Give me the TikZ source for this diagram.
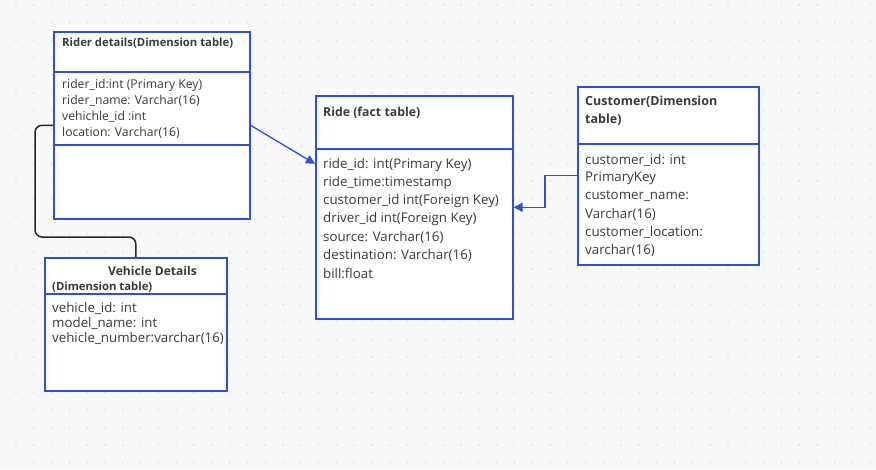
\documentclass[tikz,border=0pt]{standalone}
\usepackage{fontspec}
\setmainfont{Open Sans}
\usetikzlibrary{arrows.meta}
\definecolor{bg}{HTML}{F8F8FB}
\definecolor{dotc}{HTML}{D4D4DC}
\definecolor{tblue}{HTML}{2E4FD6}
\definecolor{txt}{HTML}{3A3A3A}
\tikzset{
  tbl/.style={draw=tblue, line width=1.6pt, fill=white, inner sep=0, anchor=north west},
  sepline/.style={draw=tblue, line width=1.3pt},
  ttl/.style={font=\bfseries\fontsize{12.3}{14}\selectfont, text=txt, anchor=west, inner sep=0},
  fld/.style={font=\fontsize{13.3}{15}\selectfont, text=txt, anchor=west, inner sep=0},
  sfld/.style={font=\fontsize{12.2}{14}\selectfont, text=txt, anchor=west, inner sep=0},
  conn/.style={draw=tblue, line width=1.3pt, -{Triangle[length=9pt,width=9pt]}},
}
\begin{document}
\begin{tikzpicture}[x=1pt,y=-1pt]
\fill[bg] (0,0) rectangle (876,469);
\useasboundingbox (0,0) rectangle (876,469);
\foreach \i in {0,...,48}{\foreach \j in {0,...,26}{
  \fill[dotc] (16+17.8*\i, 5+17.6*\j) circle (0.8);}}

% tables
\node[tbl, minimum width=196pt, minimum height=187pt] (rider) at (53,31) {};
\node[tbl, minimum width=182pt, minimum height=133pt] (vehicle) at (44,257) {};
\node[tbl, minimum width=197pt, minimum height=223pt] (ride) at (315,95) {};
\node[tbl, minimum width=181pt, minimum height=178pt] (cust) at (577,86) {};

% separators
\draw[sepline] (53,72) -- (249,72);
\draw[sepline] (53,145) -- (249,145);
\draw[sepline] (44,294) -- (226,294);
\draw[sepline] (315,149) -- (512,149);
\draw[sepline] (577,144) -- (758,144);

% rider text
\node[ttl, font=\bfseries\fontsize{11.3}{13}\selectfont] (rt) at (62,43) {Rider details(Dimension table)};
\foreach \t [count=\k] in {rider\_id:int (Primary Key), rider\_name: Varchar(16), vehichle\_id :int, location: Varchar(16)}
  \node[sfld] (rf\k) at (62,69+16*\k) {\t};

% vehicle text
\node[ttl, font=\bfseries\fontsize{12.1}{14}\selectfont] (vt1) at (108,271) {Vehicle Details};
\node[ttl, font=\bfseries\fontsize{11.3}{13}\selectfont] (vt2) at (52,287) {(Dimension table)};
\foreach \t [count=\k] in {vehicle\_id: int, model\_name: int, vehicle\_number:varchar(16)}
  \node[fld] (vf\k) at (52,293+15*\k) {\t};

% ride text
\node[ttl] (dt) at (323,113) {Ride (fact table)};
\foreach \t [count=\k] in {ride\_id: int(Primary Key), ride\_time:timestamp, customer\_id int(Foreign Key), driver\_id int(Foreign Key), source: Varchar(16), destination: Varchar(16), bill:float}
  \node[fld] (df\k) at (323,147.5+18*\k) {\t};

% customer text
\node[ttl, font=\bfseries\fontsize{12.5}{14}\selectfont] (ct1) at (585,102) {Customer(Dimension};
\node[ttl, font=\bfseries\fontsize{12.5}{14}\selectfont] (ct2) at (585,120) {table)};
\foreach \t [count=\k] in {customer\_id: int, PrimaryKey, customer\_name:, Varchar(16), customer\_location:, varchar(16)}
  \node[fld] (cf\k) at (585,142+18*\k) {\t};

% connectors
\draw[conn] (rider.east) -- ([yshift=43.5pt]ride.west);
\draw[conn] (cust.west) -- ++(-32,0) |- (ride.east);
\draw[black!85, line width=1.5pt, rounded corners=7pt]
  (rider.west) -- ++(-18,0) |- ([yshift=20pt]vehicle.north) -- (vehicle.north);
\end{tikzpicture}
\end{document}
